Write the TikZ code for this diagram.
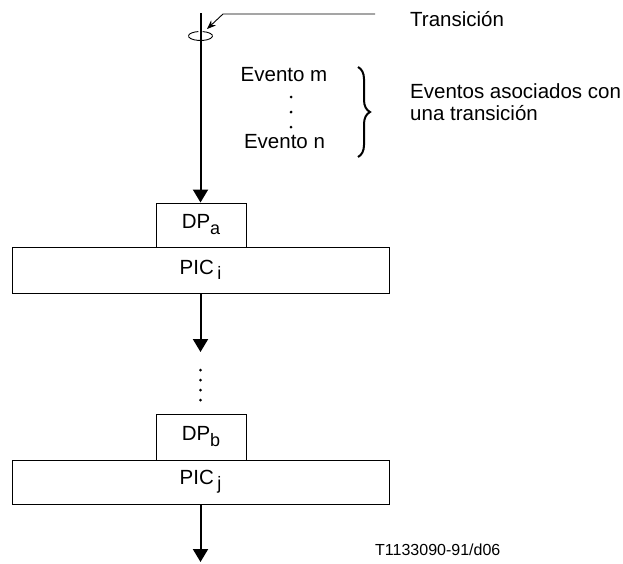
\documentclass[tikz,border=0pt]{standalone}
\usepackage{fontspec}
\setmainfont{Liberation Sans}
\usetikzlibrary{arrows.meta,decorations.pathreplacing}
\begin{document}
\begin{tikzpicture}[x=1pt,y=-1pt,
  lbl/.style={font=\fontsize{20.5}{22}\selectfont, inner sep=0pt},
  blk/.style={draw, line width=1pt, inner sep=0pt, font=\fontsize{20.5}{22}\selectfont},
  flow/.style={line width=2pt, -{Triangle[length=13pt,width=15pt]}},
  thin/.style={line width=0.9pt},
  dot/.style={circle, fill, inner sep=0pt, minimum size=3pt}]
\useasboundingbox (0,0) rectangle (623,563);

% main flow
\coordinate (top) at (200.5,13);
\node[blk, minimum width=90pt, minimum height=44pt] (dpa) at (201,225) {DP\raisebox{-6pt}{\fontsize{18}{18}\selectfont a}};
\node[blk, minimum width=377pt, minimum height=46pt] (pici) at (200.5,270) {PIC\,\raisebox{-5pt}{\fontsize{18}{18}\selectfont i}};
\node[blk, minimum width=90pt, minimum height=46pt] (dpb) at (201,437) {DP\raisebox{-6pt}{\fontsize{18}{18}\selectfont b}};
\node[blk, minimum width=377pt, minimum height=44pt] (picj) at (200.5,482) {PIC\,\raisebox{-5pt}{\fontsize{18}{18}\selectfont j}};
\coordinate (mid) at (200.5,352);
\coordinate (bottom) at (200.5,562);

\draw[flow] (top) -- (top |- dpa.north);
\draw[flow] (pici.south -| top) -- (mid);
\draw[flow] (picj.south -| top) -- (bottom);

% continuation dots
\foreach \y [count=\k] in {370,380,390,400}
  \node[dot] (c\k) at (200.5,\y) {};

% transition marker
\draw[thin] (200.5,36) ++(280:12 and 4.5) arc[start angle=280, end angle=620, x radius=12, y radius=4.5];
\coordinate (ptail) at (375,14);
\coordinate (pbend) at (223,14);
\coordinate (ptip) at (207,29);
\draw[thin, -{Stealth[length=9pt,width=7pt]}] (ptail) -- (pbend) -- (ptip);
\node[lbl, anchor=base west] (trans) at (410,26) {Transición};

% events
\node[lbl, anchor=base] (evm) at (284,81.5) {Evento m};
\foreach \y [count=\k] in {97,112,127}
  \node[dot] (e\k) at (291,\y) {};
\node[lbl, anchor=base] (evn) at (284.5,148) {Evento n};
\draw[decorate, decoration={brace, amplitude=12pt}, line width=2pt] (358,67) -- (358,157);
\node[lbl, anchor=base west] (assoc1) at (410,98) {Eventos asociados con};
\node[lbl, anchor=base west] (assoc2) at (410,120) {una transición};

\node[font=\fontsize{16}{18}\selectfont, anchor=base west, inner sep=0pt] (code) at (375,555) {T1133090-91/d06};
\end{tikzpicture}
\end{document}
